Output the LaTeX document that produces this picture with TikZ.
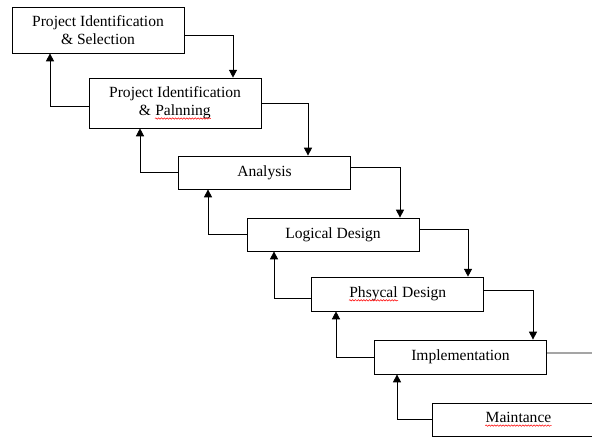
\documentclass[tikz,border=0pt]{standalone}
\usepackage{fontspec}
\setmainfont{Liberation Serif}
\usepackage{tikz}
\usetikzlibrary{arrows, arrows.meta, shapes, decorations.pathmorphing}
\newcommand{\typo}[1]{\tikz[baseline=(w.base)]{\node[inner sep=0pt, minimum width=0pt, minimum height=0pt, draw=none, fill=none] (w) {#1};
	\draw[red, line width=0.3pt, decorate, decoration={snake, amplitude=0.4pt, segment length=1.6pt}]
		([yshift=-1.6pt]w.base west) -- ([yshift=-1.6pt]w.base east);}}

\begin{document}
\begin{tikzpicture}[x=0.02cm, y=-0.02cm, line width=0.5pt,
	>={Triangle[length=4.5pt,width=4.6pt]},
	stage/.style={draw, fill=white, inner sep=0pt, minimum width=3.44cm, minimum height=0.66cm,
		align=center, font=\fontsize{8.85}{10.4}\selectfont}]
	                %\draw[step=10,color=gray] (0,0) grid (592,437);
			\useasboundingbox (0,0) rectangle (592,437);
			\clip (0,0) rectangle (592,437);
			\node[stage, minimum height=0.92cm] (ident) at (98,30) {Project Identification\\ \& Selection};
			\node[stage, minimum height=1.0cm] (plan) at (175,103) {Project Identification\\ \& \typo{Palnning}};
			\node[stage] (anal) at (264.5,172.5) {Analysis};
			\node[stage] (logic) at (333,234.5) {Logical Design};
			\node[stage, minimum height=0.68cm] (phys) at (397.5,294) {\typo{Phsycal} Design};
			\node[stage, minimum height=0.68cm] (impl) at (460.5,357) {Implementation};
			\node[stage] (maint) at (518.5,419.5) {\typo{Maintance}};
			\coordinate (out) at (600,353);
			% forward
			\draw[->] ([yshift=-5*0.02cm]ident.east) -| (plan.north -| 233,0);
			\draw[->] (plan.east) -| (anal.north -| 308,0);
			\draw[->] ([yshift=0.11cm]anal.east) -| (logic.north -| 400,0);
			\draw[->] ([yshift=0.11cm]logic.east) -| (phys.north -| 468,0);
			\draw[->] ([yshift=0.08cm]phys.east) -| (impl.north -| 533,0);
			\draw ([yshift=0.08cm]impl.east) -- (out);
			% back
			\draw[->] ([yshift=-0.06cm]plan.west) -| (ident.south -| 50,0);
			\draw[->] (anal.west) -| (plan.south -| 140,0);
			\draw[->] (logic.west) -| (anal.south -| 208,0);
			\draw[->] ([yshift=-0.08cm]phys.west) -| (logic.south -| 274,0);
			\draw[->] (impl.west) -| (phys.south -| 336,0);
			\draw[->] (maint.west) -| (impl.south -| 397,0);
	\end{tikzpicture}
\end{document}
